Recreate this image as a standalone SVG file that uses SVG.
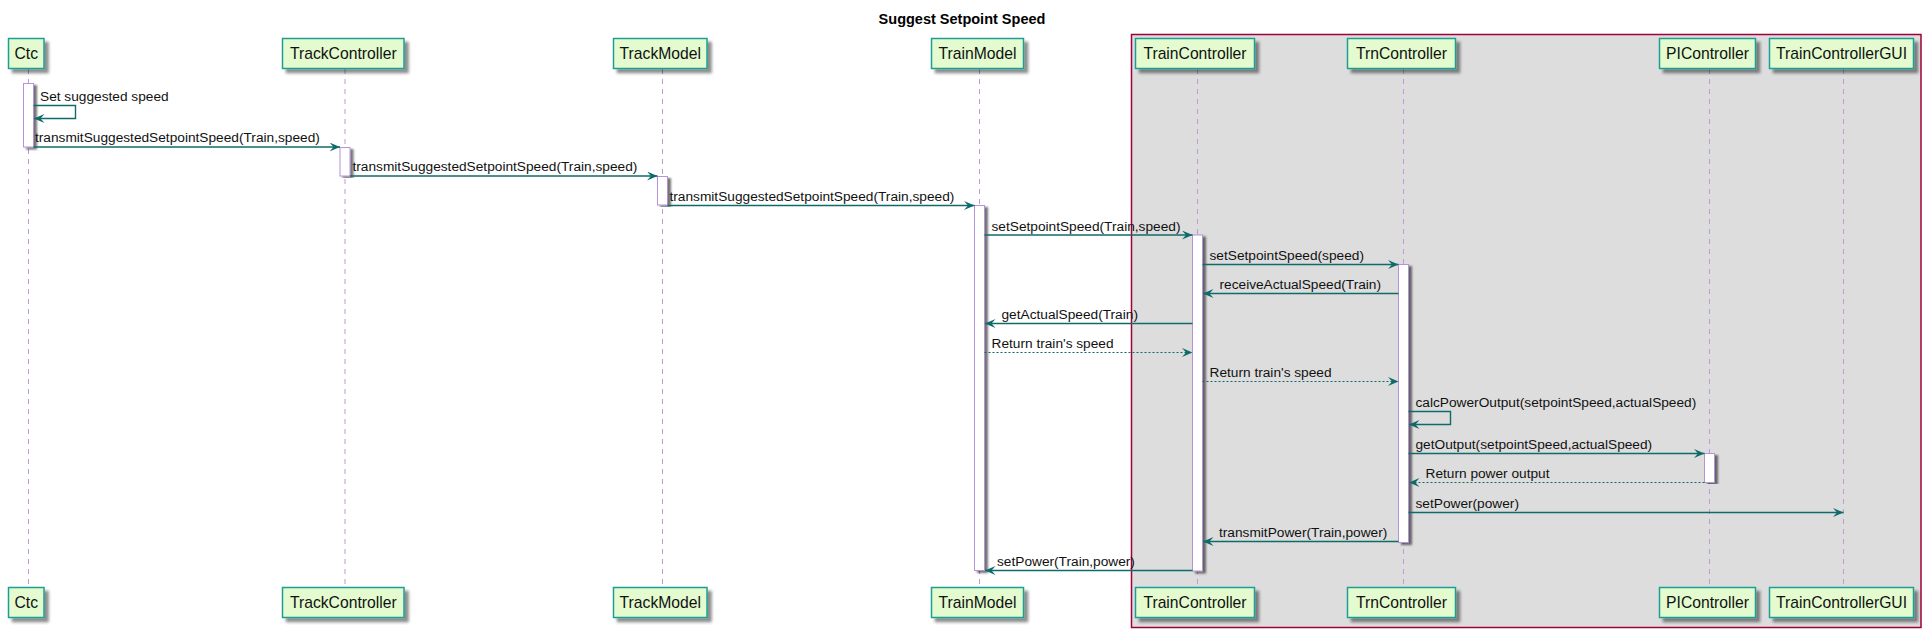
<svg xmlns="http://www.w3.org/2000/svg" width="1931" height="637" viewBox="0 0 1931 637">
<style>
.title{font-family:"Liberation Sans",Arial,sans-serif;font-size:14.5px;font-weight:bold;fill:#000;text-anchor:middle}
.pbox{fill:#E3FBCE;stroke:#1E9E96;stroke-width:1.5}
.ptxt{font-family:"Liberation Sans",Arial,sans-serif;font-size:15.7px;fill:#111;text-anchor:middle}
.life{stroke:#BF97DA;stroke-width:1;stroke-dasharray:5,5;fill:none}
.act{fill:#FFFFFF;stroke:#B692D8;stroke-width:1}
.msg{stroke:#0F6B69;stroke-width:1.4;fill:none;marker-end:url(#ah)}
.ret{stroke:#0F6B69;stroke-width:1.2;fill:none;stroke-dasharray:2,2;marker-end:url(#ah)}
.mtxt{font-family:"Liberation Sans",Arial,sans-serif;font-size:13.7px;fill:#111}
</style>
<defs>
<filter id="sh" x="-20%" y="-20%" width="150%" height="160%">
<feGaussianBlur in="SourceAlpha" stdDeviation="1.8"/>
<feOffset dx="4" dy="4" result="b"/>
<feComponentTransfer><feFuncA type="linear" slope="0.45"/></feComponentTransfer>
<feMerge><feMergeNode/><feMergeNode in="SourceGraphic"/></feMerge>
</filter>
<filter id="ash" x="-50%" y="-5%" width="250%" height="110%">
<feGaussianBlur in="SourceAlpha" stdDeviation="0.8"/>
<feOffset dx="3" dy="2" result="b"/>
<feComponentTransfer><feFuncA type="linear" slope="0.55"/></feComponentTransfer>
<feMerge><feMergeNode/><feMergeNode in="SourceGraphic"/></feMerge>
</filter>
<marker id="ah" viewBox="0 0 11 9" markerWidth="11" markerHeight="9" refX="10.5" refY="4.5" orient="auto" markerUnits="userSpaceOnUse">
<path d="M0,0 L10.5,4.5 L0,9 L4,4.5 Z" fill="#0F6B69"/>
</marker>
</defs>
<rect x="0" y="0" width="1931" height="637" fill="#FFFFFF"/>
<text class="title" x="962" y="24">Suggest Setpoint Speed</text>

<g id="box-traincontroller">
<rect x="1131.5" y="34.5" width="789.5" height="593" fill="#DDDDDD" stroke="#A0003A" stroke-width="1.5"/>
</g>

<g id="lifelines">
<line class="life" x1="28.5" y1="69" x2="28.5" y2="587"/>
<line class="life" x1="345" y1="69" x2="345" y2="587"/>
<line class="life" x1="662.5" y1="69" x2="662.5" y2="587"/>
<line class="life" x1="979.5" y1="69" x2="979.5" y2="587"/>
<line class="life" x1="1197.5" y1="69" x2="1197.5" y2="587"/>
<line class="life" x1="1403.5" y1="69" x2="1403.5" y2="587"/>
<line class="life" x1="1709.5" y1="69" x2="1709.5" y2="587"/>
<line class="life" x1="1843.5" y1="69" x2="1843.5" y2="587"/>
</g>

<g id="p-ctc">
<rect class="pbox" filter="url(#sh)" x="8.5" y="38.5" width="35.5" height="30"/>
<text class="ptxt" x="26.3" y="59">Ctc</text>
<rect class="pbox" filter="url(#sh)" x="8.5" y="587.5" width="35.5" height="30"/>
<text class="ptxt" x="26.3" y="608">Ctc</text>
</g>
<g id="p-trackcontroller">
<rect class="pbox" filter="url(#sh)" x="282.5" y="38.5" width="121.5" height="30"/>
<text class="ptxt" x="343.3" y="59">TrackController</text>
<rect class="pbox" filter="url(#sh)" x="282.5" y="587.5" width="121.5" height="30"/>
<text class="ptxt" x="343.3" y="608">TrackController</text>
</g>
<g id="p-trackmodel">
<rect class="pbox" filter="url(#sh)" x="613.5" y="38.5" width="93.5" height="30"/>
<text class="ptxt" x="660.3" y="59">TrackModel</text>
<rect class="pbox" filter="url(#sh)" x="613.5" y="587.5" width="93.5" height="30"/>
<text class="ptxt" x="660.3" y="608">TrackModel</text>
</g>
<g id="p-trainmodel">
<rect class="pbox" filter="url(#sh)" x="931.5" y="38.5" width="92" height="30"/>
<text class="ptxt" x="977.5" y="59">TrainModel</text>
<rect class="pbox" filter="url(#sh)" x="931.5" y="587.5" width="92" height="30"/>
<text class="ptxt" x="977.5" y="608">TrainModel</text>
</g>
<g id="p-traincontroller">
<rect class="pbox" filter="url(#sh)" x="1135.5" y="38.5" width="119" height="30"/>
<text class="ptxt" x="1195" y="59">TrainController</text>
<rect class="pbox" filter="url(#sh)" x="1135.5" y="587.5" width="119" height="30"/>
<text class="ptxt" x="1195" y="608">TrainController</text>
</g>
<g id="p-trncontroller">
<rect class="pbox" filter="url(#sh)" x="1347.5" y="38.5" width="108" height="30"/>
<text class="ptxt" x="1401.5" y="59">TrnController</text>
<rect class="pbox" filter="url(#sh)" x="1347.5" y="587.5" width="108" height="30"/>
<text class="ptxt" x="1401.5" y="608">TrnController</text>
</g>
<g id="p-picontroller">
<rect class="pbox" filter="url(#sh)" x="1659.5" y="38.5" width="96" height="30"/>
<text class="ptxt" x="1707.5" y="59">PIController</text>
<rect class="pbox" filter="url(#sh)" x="1659.5" y="587.5" width="96" height="30"/>
<text class="ptxt" x="1707.5" y="608">PIController</text>
</g>
<g id="p-traincontrollergui">
<rect class="pbox" filter="url(#sh)" x="1769.5" y="38.5" width="144" height="30"/>
<text class="ptxt" x="1841.5" y="59">TrainControllerGUI</text>
<rect class="pbox" filter="url(#sh)" x="1769.5" y="587.5" width="144" height="30"/>
<text class="ptxt" x="1841.5" y="608">TrainControllerGUI</text>
</g>

<g id="activations">
<rect class="act" filter="url(#ash)" x="23.5" y="83.5" width="10" height="63.5"/>
<rect class="act" filter="url(#ash)" x="340" y="147.5" width="10" height="28.5"/>
<rect class="act" filter="url(#ash)" x="657.5" y="176.5" width="10" height="28.5"/>
<rect class="act" filter="url(#ash)" x="974.5" y="205.5" width="10" height="365"/>
<rect class="act" filter="url(#ash)" x="1192.5" y="235" width="10" height="336"/>
<rect class="act" filter="url(#ash)" x="1398.5" y="264.5" width="10" height="278"/>
<rect class="act" filter="url(#ash)" x="1704.5" y="453.5" width="10" height="29"/>
</g>

<g id="connectors">
<polyline class="msg" points="33.5,105.5 75.5,105.5 75.5,118.5 34,118.5"/>
<text class="mtxt" x="40" y="101">Set suggested speed</text>

<line class="msg" x1="33.5" y1="147" x2="340" y2="147"/>
<text class="mtxt" x="35" y="142">transmitSuggestedSetpointSpeed(Train,speed)</text>

<line class="msg" x1="350" y1="176" x2="657.5" y2="176"/>
<text class="mtxt" x="352.5" y="171">transmitSuggestedSetpointSpeed(Train,speed)</text>

<line class="msg" x1="667.5" y1="205.5" x2="974.5" y2="205.5"/>
<text class="mtxt" x="669.5" y="200.5">transmitSuggestedSetpointSpeed(Train,speed)</text>

<line class="msg" x1="984.5" y1="235" x2="1192.5" y2="235"/>
<text class="mtxt" x="991.5" y="230.5">setSetpointSpeed(Train,speed)</text>

<line class="msg" x1="1202.5" y1="264.5" x2="1398.5" y2="264.5"/>
<text class="mtxt" x="1209.5" y="260">setSetpointSpeed(speed)</text>

<line class="msg" x1="1398.5" y1="293.5" x2="1203" y2="293.5"/>
<text class="mtxt" x="1219.5" y="289">receiveActualSpeed(Train)</text>

<line class="msg" x1="1192.5" y1="323.5" x2="985" y2="323.5"/>
<text class="mtxt" x="1001.5" y="319">getActualSpeed(Train)</text>

<line class="ret" x1="984.5" y1="352.5" x2="1192.5" y2="352.5"/>
<text class="mtxt" x="991.5" y="348">Return train's speed</text>

<line class="ret" x1="1202.5" y1="381.5" x2="1398.5" y2="381.5"/>
<text class="mtxt" x="1209.5" y="377">Return train's speed</text>

<polyline class="msg" points="1408.5,411.5 1450.5,411.5 1450.5,424.5 1409,424.5"/>
<text class="mtxt" x="1415.5" y="407">calcPowerOutput(setpointSpeed,actualSpeed)</text>

<line class="msg" x1="1408.5" y1="453.5" x2="1704.5" y2="453.5"/>
<text class="mtxt" x="1415.5" y="449">getOutput(setpointSpeed,actualSpeed)</text>

<line class="ret" x1="1704.5" y1="482.5" x2="1409" y2="482.5"/>
<text class="mtxt" x="1425.5" y="478">Return power output</text>

<line class="msg" x1="1408.5" y1="512.5" x2="1843.5" y2="512.5"/>
<text class="mtxt" x="1415.5" y="508">setPower(power)</text>

<line class="msg" x1="1398.5" y1="541.5" x2="1203" y2="541.5"/>
<text class="mtxt" x="1219" y="537">transmitPower(Train,power)</text>

<line class="msg" x1="1192.5" y1="570.5" x2="985" y2="570.5"/>
<text class="mtxt" x="997" y="566">setPower(Train,power)</text>
</g>
</svg>
